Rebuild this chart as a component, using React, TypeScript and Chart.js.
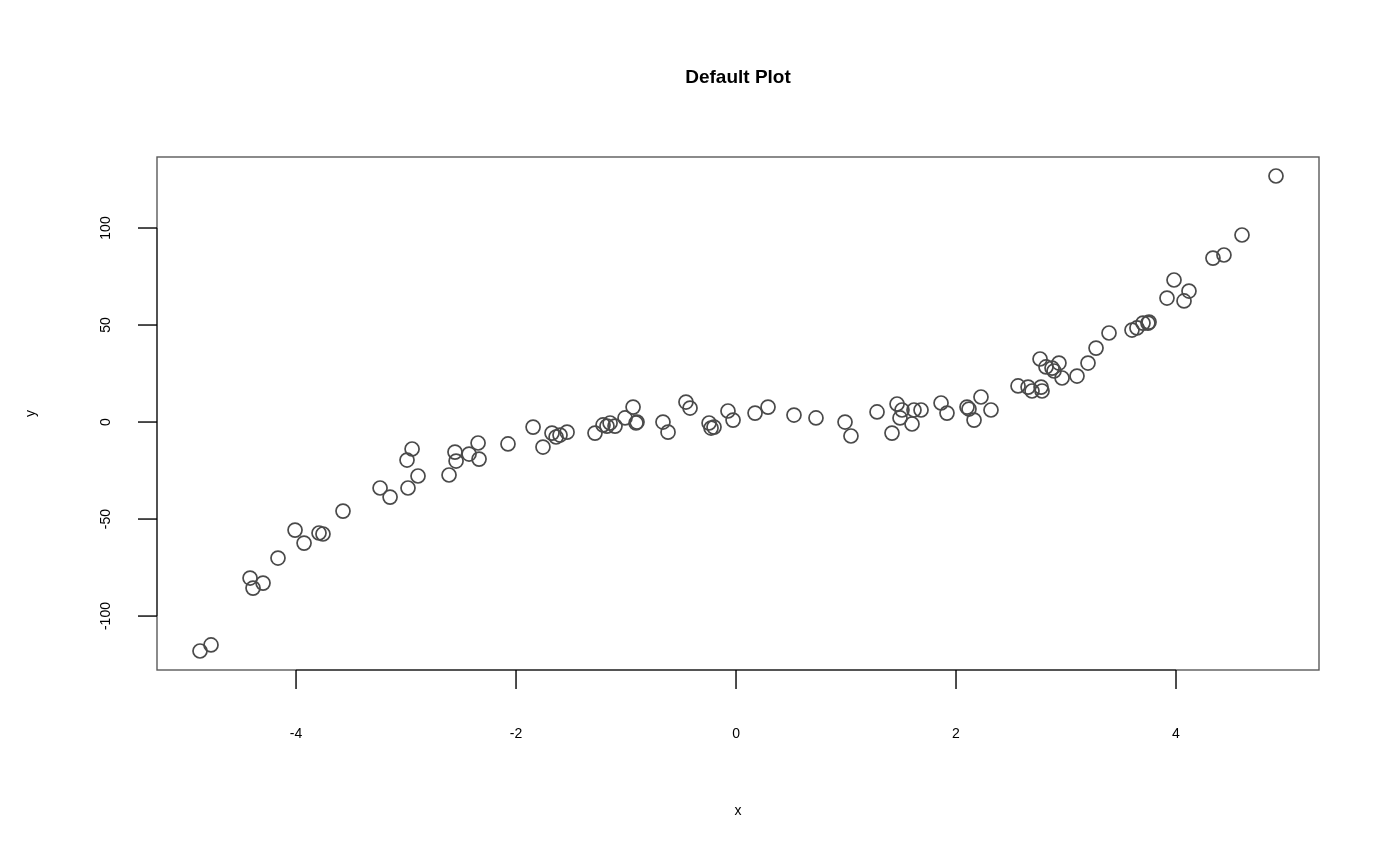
import React, { useEffect, useRef } from "react";
import { Chart, registerables } from "chart.js";

Chart.register(...registerables);

const xValues = [
  -4.873, -4.773, -4.418, -4.391, -4.3, -4.164, -4.009, -3.927, -3.791, -3.755,
  -3.573, -3.236, -3.145, -2.982, -2.891, -2.991, -2.945, -2.609, -2.555, -2.545,
  -2.427, -2.345, -2.336, -2.073, -1.845, -1.755, -1.673, -1.636, -1.6, -1.536,
  -1.282, -1.209, -1.173, -1.145, -1.1, -1.009, -0.936, -0.909, -0.9, -0.664,
  -0.618, -0.455, -0.418, -0.245, -0.227, -0.2, -0.073, -0.027, 0.173, 0.291,
  0.527, 0.727, 0.991, 1.045, 1.282, 1.418, 1.464, 1.509, 1.491, 1.6,
  1.618, 1.682, 1.864, 1.918, 2.1, 2.118, 2.164, 2.227, 2.318, 2.564,
  2.655, 2.691, 2.773, 2.782, 2.764, 2.818, 2.873, 2.936, 2.891, 2.964,
  3.1, 3.2, 3.273, 3.391, 3.6, 3.645, 3.7, 3.745, 3.755, 3.918,
  3.982, 4.073, 4.118, 4.336, 4.436, 4.6, 4.909,
];

const yValues = [
  -118.0, -114.9, -80.4, -85.6, -83.0, -70.1, -55.7, -62.4, -57.2, -57.7,
  -45.9, -34.0, -38.7, -34.0, -27.8, -19.6, -13.9, -27.3, -15.5, -20.1,
  -16.5, -10.8, -19.1, -11.3, -2.6, -12.9, -5.7, -7.7, -6.7, -5.2,
  -5.7, -1.5, -2.1, -0.5, -2.1, 2.1, 7.7, -0.5, 0.0, 0.0,
  -5.2, 10.3, 7.2, -0.5, -3.1, -2.6, 5.7, 1.0, 4.6, 7.7,
  3.6, 2.1, 0.0, -7.2, 5.2, -5.7, 9.3, 6.2, 2.1, -1.0,
  6.2, 6.2, 9.8, 4.6, 7.7, 6.7, 1.0, 12.9, 6.2, 18.6,
  18.0, 16.0, 18.0, 16.0, 32.5, 28.4, 27.8, 30.4, 26.3, 22.7,
  23.7, 30.4, 38.1, 45.9, 47.4, 48.5, 51.0, 51.0, 51.5, 63.9,
  73.2, 62.4, 67.5, 84.5, 86.1, 96.4, 126.8,
];

const xTicks = [-4, -2, 0, 2, 4];
const yTicks = [-100, -50, 0, 50, 100];
const titleText = "Default Plot";
const xTitle = "x";
const yTitle = "y";

const X_MIN = -5.264;
const X_MAX = 5.3;
const Y_MIN = -127.8;
const Y_MAX = 136.6;

const FONT = '"Liberation Sans", Arial, Helvetica, sans-serif';

const baseAxesPlugin = {
  id: "baseAxes",
  afterDraw(chart: any) {
    const { ctx, chartArea: a, scales } = chart;
    const xs = scales.x;
    const ys = scales.y;
    ctx.save();

    // plot box
    ctx.strokeStyle = "#5a5a5a";
    ctx.lineWidth = 1.4;
    ctx.strokeRect(a.left, a.top, a.right - a.left, a.bottom - a.top);

    const tickLen = 19;

    // x axis line
    const xa = xs.getPixelForValue(xTicks[0]);
    const xb = xs.getPixelForValue(xTicks[xTicks.length - 1]);
    ctx.strokeStyle = "#444444";
    ctx.lineWidth = 1.6;
    ctx.beginPath();
    ctx.moveTo(xa, a.bottom);
    ctx.lineTo(xb, a.bottom);
    ctx.stroke();

    // y axis line
    const ya = ys.getPixelForValue(yTicks[0]);
    const yb = ys.getPixelForValue(yTicks[yTicks.length - 1]);
    ctx.beginPath();
    ctx.moveTo(a.left, ya);
    ctx.lineTo(a.left, yb);
    ctx.stroke();

    ctx.strokeStyle = "#000000";
    ctx.lineWidth = 1.4;
    ctx.fillStyle = "#000000";
    ctx.font = `14px ${FONT}`;
    ctx.textAlign = "center";
    ctx.textBaseline = "middle";
    for (const t of xTicks) {
      const px = xs.getPixelForValue(t);
      ctx.beginPath();
      ctx.moveTo(px, a.bottom);
      ctx.lineTo(px, a.bottom + tickLen);
      ctx.stroke();
      ctx.fillText(String(t), px, a.bottom + 64);
    }
    for (const t of yTicks) {
      const py = ys.getPixelForValue(t);
      ctx.beginPath();
      ctx.moveTo(a.left, py);
      ctx.lineTo(a.left - tickLen, py);
      ctx.stroke();
      ctx.save();
      ctx.translate(a.left - 51, py);
      ctx.rotate(-Math.PI / 2);
      ctx.fillText(String(t), 0, 0);
      ctx.restore();
    }

    // titles
    ctx.font = `bold 19px ${FONT}`;
    ctx.fillText(titleText, (a.left + a.right) / 2, a.top - 79);
    ctx.font = `14px ${FONT}`;
    ctx.fillText(xTitle, (a.left + a.right) / 2, a.bottom + 141);
    ctx.save();
    ctx.translate(a.left - 126, (a.top + a.bottom) / 2);
    ctx.rotate(-Math.PI / 2);
    ctx.fillText(yTitle, 0, 0);
    ctx.restore();

    ctx.restore();
  },
};

export default function App() {
  const ref = useRef<HTMLCanvasElement | null>(null);

  useEffect(() => {
    if (!ref.current) return;
    const data = xValues.map((x, i) => ({ x, y: yValues[i] }));
    const chart = new Chart(ref.current, {
      type: "scatter",
      data: {
        datasets: [
          {
            data,
            pointRadius: 7,
            pointHoverRadius: 7,
            pointBorderWidth: 1.7,
            pointBorderColor: "#4a4a4a",
            pointBackgroundColor: "rgba(0,0,0,0)",
          },
        ],
      },
      options: {
        responsive: false,
        animation: false,
        devicePixelRatio: 1,
        layout: { padding: { left: 157, right: 81, top: 157, bottom: 196 } },
        plugins: {
          legend: { display: false },
          tooltip: { enabled: false },
          title: { display: false },
        },
        scales: {
          x: { type: "linear", min: X_MIN, max: X_MAX, display: false },
          y: { type: "linear", min: Y_MIN, max: Y_MAX, display: false },
        },
      },
      plugins: [baseAxesPlugin],
    });
    return () => chart.destroy();
  }, []);

  return (
    <div style={{ position: "fixed", left: 0, top: 0, width: 1400, height: 866, background: "#ffffff" }}>
      <canvas ref={ref} width={1400} height={866} style={{ display: "block", width: 1400, height: 866 }} />
    </div>
  );
}
